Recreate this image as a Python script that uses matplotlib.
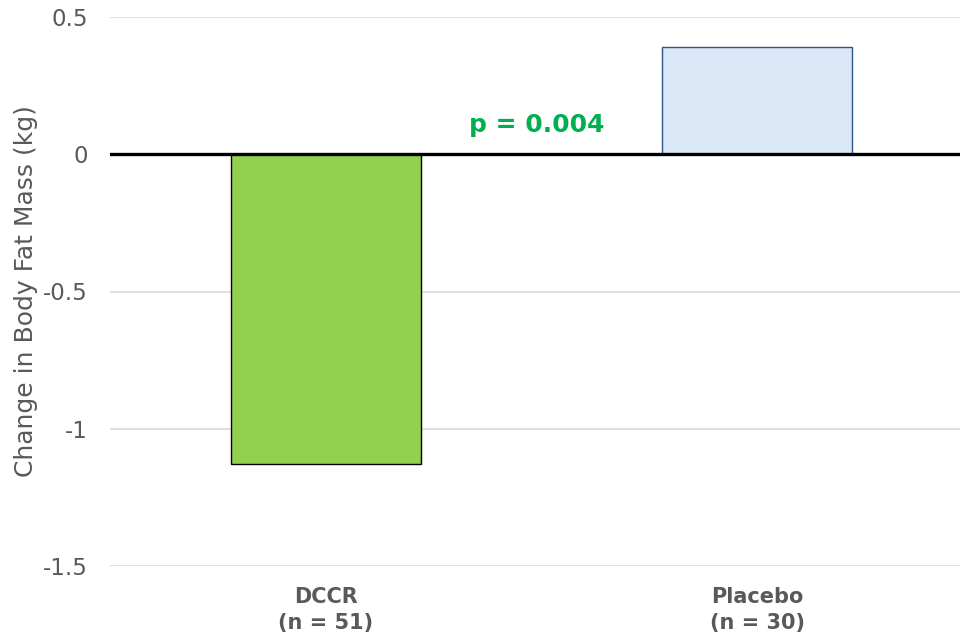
import matplotlib
matplotlib.use("Agg")
import matplotlib.pyplot as plt

categories = ["DCCR\n(n = 51)", "Placebo\n(n = 30)"]
values = [-1.13, 0.39]
yticks = [0.5, 0, -0.5, -1, -1.5]
ytick_labels = ["0.5", "0", "-0.5", "-1", "-1.5"]
annotation = "p = 0.004"

plt.rcParams['font.family'] = ['DejaVu Sans']

fig = plt.figure(figsize=(9.6, 6.42), dpi=100)
ax = fig.add_axes([110/960, 1-566/642, 1-110/960, (566-17)/642])

x = list(range(len(categories)))
ax.bar(x[0], values[0], width=0.44, color="#92D050", edgecolor="black", linewidth=1.0, zorder=3)
ax.bar(x[1], values[1], width=0.44, color="#DAE7F7", edgecolor="#2F528F", linewidth=1.0, zorder=3)

ax.set_xlim(-0.5, 1.47)
ax.set_ylim(-1.5, 0.5)
ax.set_yticks(yticks)
ax.set_yticklabels(ytick_labels)
ax.yaxis.grid(True, color="#D9D9D9", linewidth=1.2, zorder=0)
ax.axhline(0, color="black", linewidth=2.4, zorder=4)

for s in ax.spines.values():
    s.set_visible(False)
ax.tick_params(axis='y', length=0, pad=16, labelsize=16.5, labelcolor="#595959")
ax.tick_params(axis='x', length=0, pad=15)
ax.set_xticks(x)
ax.set_xticklabels(categories, fontsize=15, fontweight="bold", color="#595959", linespacing=1.4)

ax.set_ylabel("Change in Body Fat Mass (kg)", fontsize=18, color="#595959")
ax.yaxis.set_label_coords(-72/850, 0.5)

ax.text(0.49, 0.106, annotation, color="#00B050", fontsize=18, fontweight="bold",
        ha="center", va="center", zorder=5)

fig.savefig("out.png", dpi=100)
